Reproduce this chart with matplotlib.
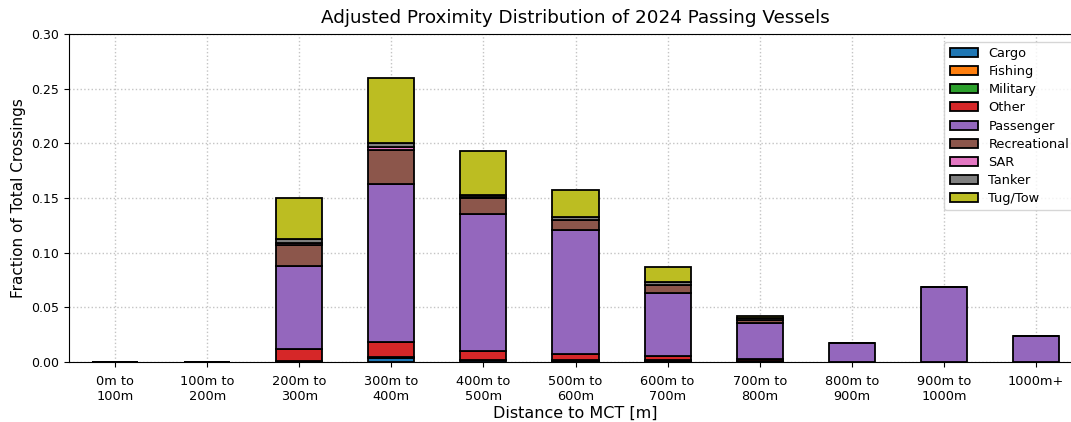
import numpy as np
import matplotlib
matplotlib.use('Agg')
from matplotlib import pyplot as plt

bins = ['0m to\n100m', '100m to\n200m', '200m to\n300m', '300m to\n400m', '400m to\n500m',
        '500m to\n600m', '600m to\n700m', '700m to\n800m', '800m to\n900m', '900m to\n1000m', '1000m+']

# fraction of total crossings per vessel type, one value per distance bin
cargo = [0, 0, 0.0005, 0.004, 0.0015, 0.001, 0.001, 0.0005, 0, 0, 0]
fishing = [0, 0, 0, 0.0005, 0, 0, 0, 0, 0, 0, 0]
military = [0, 0, 0.0005, 0.0005, 0.0005, 0.0005, 0.0005, 0.0005, 0, 0, 0]
other = [0, 0, 0.0105, 0.0135, 0.0085, 0.0055, 0.004, 0.002, 0, 0, 0]
passenger = [0, 0, 0.0765, 0.1445, 0.125, 0.114, 0.058, 0.0325, 0.017, 0.069, 0.024]
recreational = [0, 0, 0.019, 0.031, 0.0145, 0.0085, 0.0065, 0.003, 0, 0, 0]
sar = [0, 0, 0.002, 0.0024, 0.0005, 0.0005, 0.0005, 0, 0, 0, 0]
tanker = [0, 0, 0.0035, 0.0037, 0.002, 0.0025, 0.0025, 0.0015, 0, 0, 0]
tug_tow = [0, 0, 0.0375, 0.0601, 0.0405, 0.0245, 0.0143, 0.002, 0, 0, 0]

vessel_types = ['Cargo', 'Fishing', 'Military', 'Other', 'Passenger', 'Recreational', 'SAR', 'Tanker', 'Tug/Tow']
series = [cargo, fishing, military, other, passenger, recreational, sar, tanker, tug_tow]

fig = plt.figure(figsize=(10.71, 4.22), dpi=100)
ax = fig.add_axes([69 / 1071, 60 / 422, (1082 - 69) / 1071, 328 / 422])

x = np.arange(len(bins))
bottom = np.zeros(len(bins))
for i, (name, vals) in enumerate(zip(vessel_types, series)):
    ax.bar(x, vals, width=0.5, bottom=bottom, color=f'C{i}', edgecolor='black', linewidth=1.3, label=name)
    bottom += np.array(vals)

ax.set_xlim(-0.5, 10.5)
ax.set_ylim(0, 0.30)
ax.set_xticks(x)
ax.set_xticklabels(bins, fontsize=9.3)
ax.tick_params(axis='x', pad=6)
ax.tick_params(axis='y', labelsize=9)
ax.set_yticks(np.arange(0, 0.31, 0.05))
ax.grid(True, linestyle=':', color='#c4c4c4', linewidth=1)
ax.set_axisbelow(True)
ax.set_xlabel('Distance to MCT [m]', fontsize=11.5, labelpad=2)
ax.set_ylabel('Fraction of Total Crossings', fontsize=11)
ax.set_title('Adjusted Proximity Distribution of 2024 Passing Vessels', fontsize=13.2, pad=8)
ax.legend(loc='upper right', fontsize=9.3, handlelength=2.2, borderaxespad=0.6, labelspacing=0.4)

fig.savefig('out.png', dpi=100)
